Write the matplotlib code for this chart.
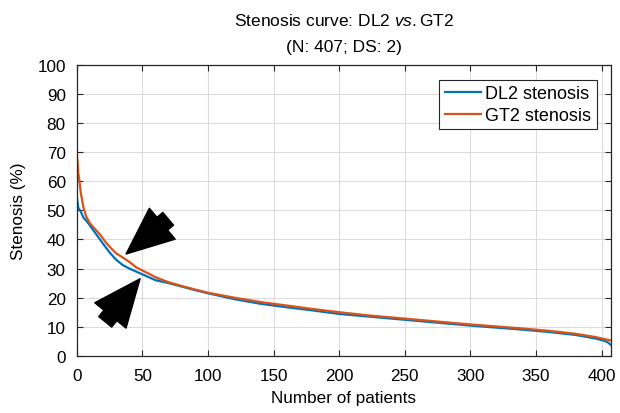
import matplotlib
matplotlib.use("Agg")
import matplotlib.pyplot as plt

plt.rcParams['font.family'] = ['Liberation Sans', 'DejaVu Sans']
plt.rcParams['mathtext.fontset'] = 'custom'
plt.rcParams['mathtext.rm'] = 'Liberation Sans'
plt.rcParams['mathtext.it'] = 'Liberation Sans:italic'

# patient index vs stenosis
x_dl2 = [0, 1, 3, 5, 8, 12, 16, 20, 25, 30, 35, 40, 45, 50, 55, 60, 70, 80, 90, 100,
         120, 140, 160, 180, 200, 220, 240, 260, 280, 300, 320, 340, 360, 380, 395,
         402, 405, 407]
y_dl2 = [54.5, 51, 49.5, 47.5, 46, 43.5, 41, 38.5, 35.5, 33, 31.2, 30, 29, 28, 27, 26,
         25, 23.8, 22.6, 21.5, 19.5, 17.9, 16.7, 15.6, 14.4, 13.6, 12.8, 12.0, 11.2,
         10.4, 9.7, 9.0, 8.2, 7.2, 6.0, 5.2, 4.6, 3.8]

x_gt2 = [0, 1, 2, 3, 5, 7, 10, 14, 18, 22, 26, 30, 35, 40, 45, 50, 55, 60, 70, 80,
         90, 100, 120, 140, 160, 180, 200, 220, 240, 260, 280, 300, 320, 340, 360,
         380, 395, 402, 407]
y_gt2 = [69.5, 63, 60, 56, 51, 48, 45.5, 43.5, 41.5, 39, 37, 35.2, 33.8, 32.3, 30.5, 29.3,
         28.2, 27, 25.3, 24, 22.8, 21.7, 20, 18.5, 17.3, 16.1, 15, 14, 13.2, 12.4,
         11.6, 10.8, 10.1, 9.4, 8.6, 7.6, 6.5, 5.8, 5.3]

xticks = [0, 50, 100, 150, 200, 250, 300, 350, 400]
yticks = list(range(0, 101, 10))

dark = '#262626'
fig = plt.figure(figsize=(6.2, 4.14), dpi=100)
ax = fig.add_axes([0.124, 0.138, 0.861, 0.703])

ax.plot(x_dl2, y_dl2, color='#0072BD', lw=1.6, label='DL2 stenosis')
ax.plot(x_gt2, y_gt2, color='#D95319', lw=1.6, label='GT2 stenosis')

ax.set_xlim(0, 407)
ax.set_ylim(0, 100)
ax.set_xticks(xticks)
ax.set_yticks(yticks)
ax.grid(True, color='#dcdcdc', lw=0.8)
ax.set_axisbelow(True)
ax.tick_params(direction='in', top=True, right=True, length=4, colors=dark,
               labelsize=12.3, labelcolor='black')
ax.tick_params(axis='x', pad=9)
ax.tick_params(axis='y', pad=8)
for s in ax.spines.values():
    s.set_color(dark)
    s.set_linewidth(0.9)

ax.set_xlabel('Number of patients', fontsize=12.3, labelpad=5)
ax.set_ylabel('Stenosis (%)', fontsize=12.3, labelpad=8)
ax.set_title('Stenosis curve: DL2 $\\it{vs.}$GT2\n(N: 407; DS: 2)',
             fontsize=12.5, linespacing=1.95, pad=10)

leg = ax.legend(loc='upper right', bbox_to_anchor=(0.974, 0.948), borderaxespad=0,
                fontsize=13, fancybox=False, framealpha=1, edgecolor=dark,
                handlelength=2.0, borderpad=0.3, labelspacing=0.25, handletextpad=0.25)
leg.get_frame().set_linewidth(0.8)

# the two black arrows
arrow = dict(arrowstyle='simple,head_length=3.4,head_width=2.9,tail_width=1.2',
             color='black', shrinkA=0, shrinkB=0, mutation_scale=10)
ax.annotate('', xy=(37.5, 35), xytext=(69.6, 47.1), arrowprops=arrow)
ax.annotate('', xy=(48.2, 26.5), xytext=(21.6, 11.7), arrowprops=arrow)

fig.savefig('out.png', dpi=100)
